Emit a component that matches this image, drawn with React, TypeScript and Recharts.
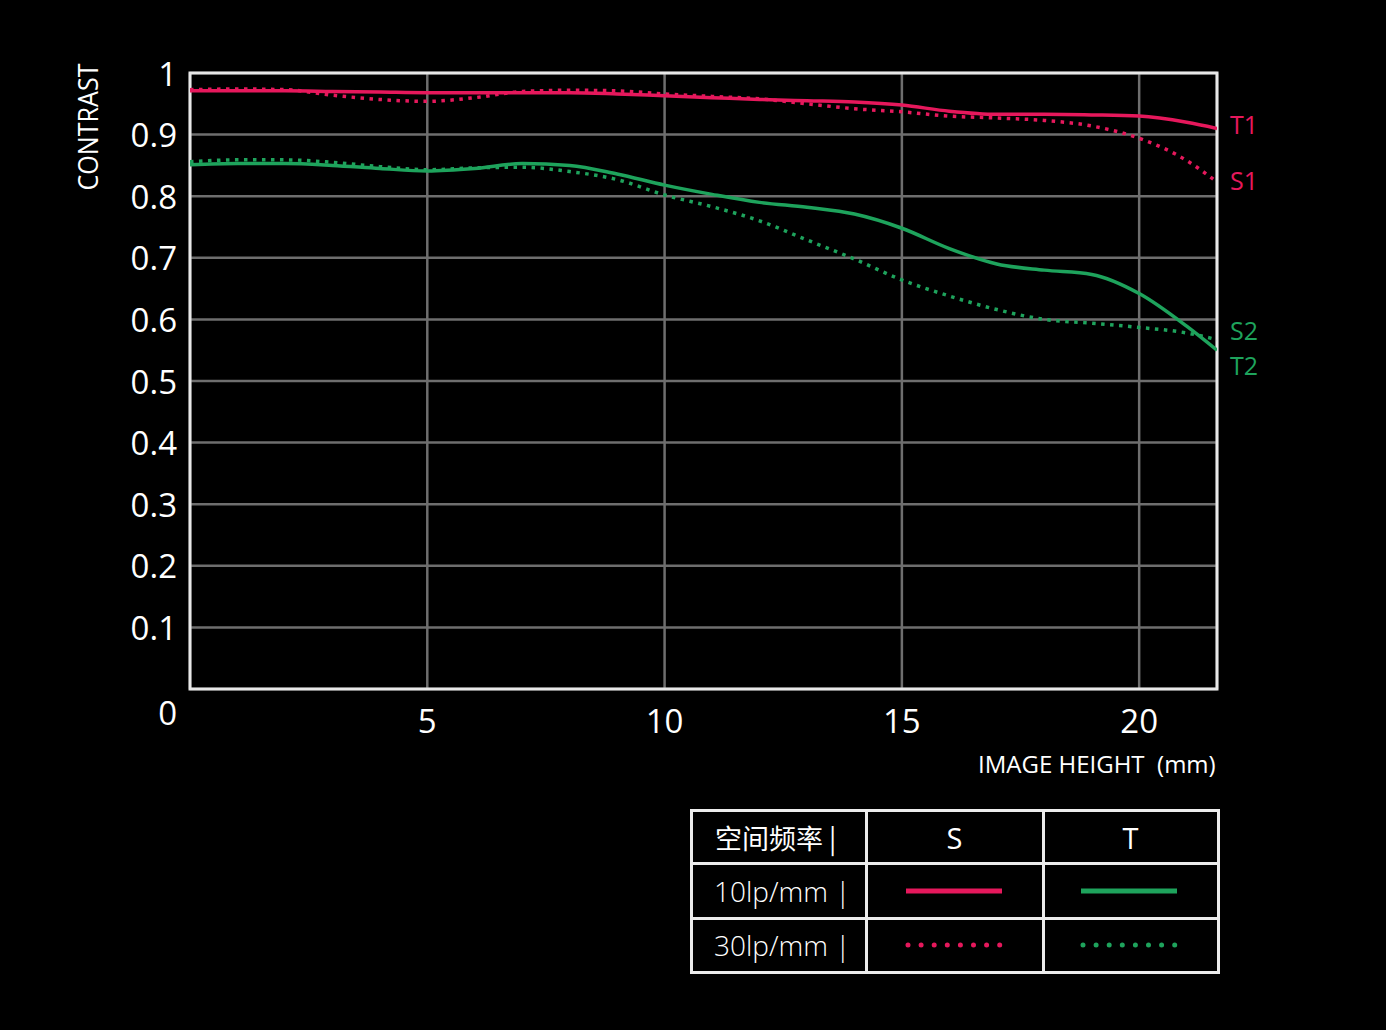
import React from "react";
import { LineChart, Line, XAxis, YAxis, CartesianGrid, ReferenceArea } from "recharts";

// Image height (mm)
const imageHeights = [0, 1, 2, 3, 4, 5, 6, 7, 8, 9, 10, 11, 12, 13, 14, 15, 16, 17, 18, 19, 20, 21, 21.64];
// 10 lp/mm, sagittal (red solid, "T1" label)
const red10 = [0.971, 0.971, 0.971, 0.970, 0.969, 0.968, 0.968, 0.968, 0.968, 0.966, 0.963, 0.960, 0.957, 0.955, 0.953, 0.948, 0.938, 0.933, 0.933, 0.932, 0.930, 0.920, 0.910];
// 30 lp/mm, sagittal (red dotted, "S1" label)
const red30 = [0.973, 0.974, 0.973, 0.964, 0.957, 0.954, 0.960, 0.970, 0.972, 0.971, 0.966, 0.962, 0.958, 0.950, 0.942, 0.937, 0.930, 0.927, 0.923, 0.914, 0.894, 0.858, 0.823];
// 10 lp/mm, tangential (green solid, "T2" label)
const green10 = [0.851, 0.853, 0.853, 0.850, 0.845, 0.841, 0.845, 0.853, 0.850, 0.836, 0.818, 0.803, 0.790, 0.782, 0.771, 0.748, 0.715, 0.690, 0.680, 0.673, 0.642, 0.589, 0.550];
// 30 lp/mm, tangential (green dotted, "S2" label)
const green30 = [0.856, 0.859, 0.859, 0.855, 0.848, 0.843, 0.846, 0.847, 0.840, 0.827, 0.802, 0.783, 0.760, 0.729, 0.698, 0.664, 0.638, 0.616, 0.600, 0.594, 0.587, 0.578, 0.567];

const xTicks = [5, 10, 15, 20];
const yTicks = [0, 0.1, 0.2, 0.3, 0.4, 0.5, 0.6, 0.7, 0.8, 0.9, 1];
const X_MAX = 21.64;

const curveLabels = [
  { text: "T1", color: "red", top: 125, left: 1230 },
  { text: "S1", color: "red", top: 181, left: 1230 },
  { text: "S2", color: "green", top: 331, left: 1230 },
  { text: "T2", color: "green", top: 366, left: 1230 },
];

const legendHeaders = ["空间频率 |", "S", "T"];
const legendRows = [
  { label: "10lp/mm |", dotted: false },
  { label: "30lp/mm |", dotted: true },
];

const RED = "#e6185c";
const GREEN = "#1ea35c";
const FONT = "'Open Sans', 'Noto Sans', sans-serif";

const data = imageHeights.map((x, i) => ({
  x,
  red10: red10[i],
  red30: red30[i],
  green10: green10[i],
  green30: green30[i],
}));

const fmtY = (v: number) => (v === 0 ? "0" : v === 1 ? "1" : v.toFixed(1));

const YTick = (props: any) => {
  const { y, payload } = props;
  const v = payload.value;
  return (
    <text
      x={177}
      y={v === 0 ? y + 23 : y}
      textAnchor="end"
      dominantBaseline="central"
      fill="#ffffff"
      fontSize={33}
      fontFamily={FONT}
    >
      {fmtY(v)}
    </text>
  );
};

const XTick = (props: any) => {
  const { x, payload } = props;
  return (
    <text
      x={x}
      y={720}
      textAnchor="middle"
      dominantBaseline="central"
      fill="#ffffff"
      fontSize={33}
      fontFamily={FONT}
    >
      {payload.value}
    </text>
  );
};

const LegendLine = ({ color, dotted }: { color: string; dotted: boolean }) => (
  <svg width={100} height={10} style={{ display: "block" }}>
    {dotted ? (
      <line x1={4} y1={5} x2={96} y2={5} stroke={color} strokeWidth={5} strokeLinecap="round" strokeDasharray="0 13.1" />
    ) : (
      <line x1={2} y1={5} x2={98} y2={5} stroke={color} strokeWidth={5} />
    )}
  </svg>
);

// legend table geometry
const TB = { left: 691, top: 810, right: 1218, bottom: 972 };
const colX = [691, 866, 1043, 1218];
const rowY = [810, 863, 918, 972];
const LINE = "#ececec";

export default function App() {
  return (
    <div
      style={{
        position: "absolute",
        left: 0,
        top: 0,
        width: 1386,
        height: 1030,
        background: "#000000",
        overflow: "hidden",
        fontFamily: FONT,
      }}
    >
      <LineChart
        width={1386}
        height={1030}
        data={data}
        margin={{ top: 73, right: 169, bottom: 291, left: 90 }}
      >
        <CartesianGrid stroke="#6e6e6e" strokeWidth={2.5} />
        <XAxis
          dataKey="x"
          type="number"
          domain={[0, X_MAX]}
          ticks={xTicks}
          allowDataOverflow
          axisLine={false}
          tickLine={false}
          height={50}
          tick={<XTick />}
        />
        <YAxis
          type="number"
          domain={[0, 1]}
          ticks={yTicks}
          axisLine={false}
          tickLine={false}
          width={100}
          tick={<YTick />}
        />
        <Line type="monotone" dataKey="green30" stroke={GREEN} strokeWidth={3.5} strokeDasharray="3.5 5.5" dot={false} isAnimationActive={false} />
        <Line type="monotone" dataKey="green10" stroke={GREEN} strokeWidth={3.5} dot={false} isAnimationActive={false} />
        <Line type="monotone" dataKey="red30" stroke={RED} strokeWidth={3.5} strokeDasharray="3.5 5.5" dot={false} isAnimationActive={false} />
        <Line type="monotone" dataKey="red10" stroke={RED} strokeWidth={3.5} dot={false} isAnimationActive={false} />
        <ReferenceArea
          x1={0}
          x2={X_MAX}
          y1={0}
          y2={1}
          fill="none"
          fillOpacity={0}
          stroke="#e8e8e8"
          strokeWidth={3}
          ifOverflow="visible"
        />
      </LineChart>

      {curveLabels.map((l) => (
        <div
          key={l.text}
          style={{
            position: "absolute",
            left: l.left,
            top: l.top,
            transform: "translateY(-50%)",
            color: l.color === "red" ? RED : GREEN,
            fontSize: 25,
            lineHeight: 0.95,
          }}
        >
          {l.text}
        </div>
      ))}

      <div
        style={{
          position: "absolute",
          left: 87,
          top: 127,
          transform: "translate(-50%, -50%) rotate(-90deg) scaleX(0.93)",
          color: "#ffffff",
          fontSize: 27,
          lineHeight: 1,
          whiteSpace: "nowrap",
        }}
      >
        CONTRAST
      </div>

      <div
        style={{
          position: "absolute",
          left: 978,
          top: 764,
          transform: "translateY(-50%)",
          color: "#ffffff",
          fontSize: 24,
          lineHeight: 1,
          whiteSpace: "pre",
        }}
      >
        {"IMAGE HEIGHT  (mm)"}
      </div>

      {/* legend table */}
      <div
        style={{
          position: "absolute",
          left: TB.left - 1.5,
          top: TB.top - 1.5,
          width: TB.right - TB.left + 3,
          height: TB.bottom - TB.top + 3,
          border: `3px solid ${LINE}`,
          boxSizing: "border-box",
        }}
      />
      {colX.slice(1, 3).map((cx) => (
        <div key={"c" + cx} style={{ position: "absolute", left: cx - 1.5, top: TB.top, width: 3, height: TB.bottom - TB.top, background: LINE }} />
      ))}
      {rowY.slice(1, 3).map((ry) => (
        <div key={"r" + ry} style={{ position: "absolute", left: TB.left, top: ry - 1.5, width: TB.right - TB.left, height: 3, background: LINE }} />
      ))}
      {legendHeaders.map((h, i) => (
        <div
          key={h}
          style={{
            position: "absolute",
            left: i === 0 ? 715 : colX[i],
            width: i === 0 ? undefined : colX[i + 1] - colX[i],
            top: (rowY[0] + rowY[1]) / 2,
            transform: "translateY(-50%)",
            textAlign: i === 0 ? "left" : "center",
            color: "#ffffff",
            fontSize: i === 0 ? 27 : 29,
            lineHeight: 1,
            whiteSpace: "pre",
            fontFamily: i === 0 ? "'Noto Sans CJK SC', sans-serif" : FONT,
          }}
        >
          {h}
        </div>
      ))}
      {legendRows.map((r, ri) => {
        const cy = (rowY[ri + 1] + rowY[ri + 2]) / 2;
        return (
          <React.Fragment key={r.label}>
            <div
              style={{
                position: "absolute",
                left: 714,
                top: cy,
                transform: "translateY(-50%)",
                color: "#ffffff",
                fontSize: 28,
                lineHeight: 1,
                whiteSpace: "pre",
                fontWeight: 300,
              }}
            >
              {r.label}
            </div>
            <div style={{ position: "absolute", left: 904, top: cy - 5 }}>
              <LegendLine color={RED} dotted={r.dotted} />
            </div>
            <div style={{ position: "absolute", left: 1079, top: cy - 5 }}>
              <LegendLine color={GREEN} dotted={r.dotted} />
            </div>
          </React.Fragment>
        );
      })}
    </div>
  );
}
